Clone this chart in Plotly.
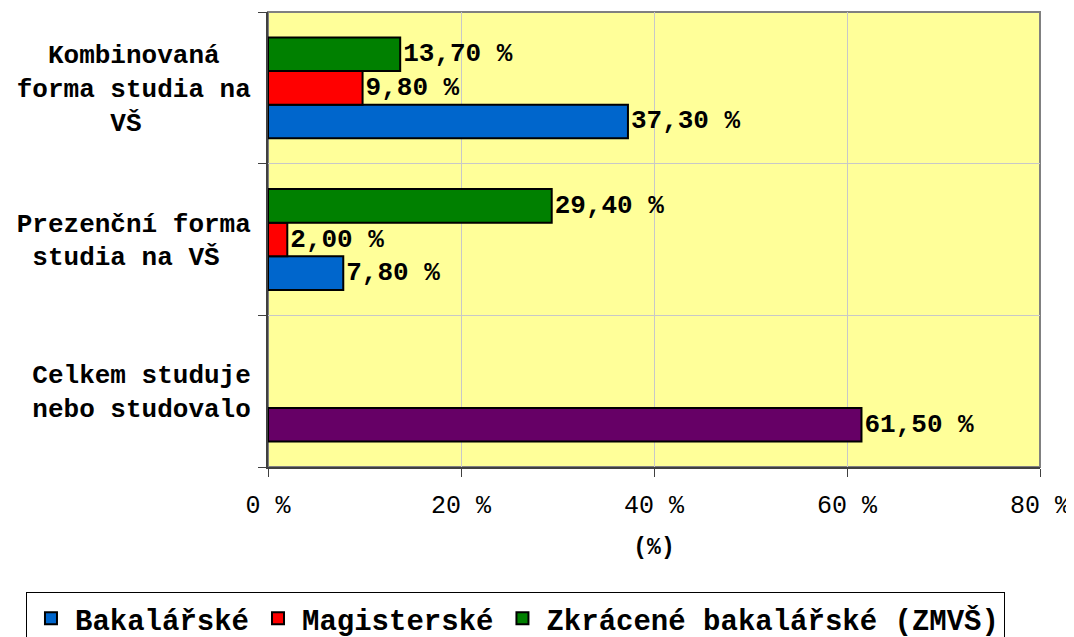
import plotly.graph_objects as go

NB = "\u00a0"
categories = [
    "Celkem studuje<br>nebo studovalo",
    "Prezenční forma<br>studia na VŠ" + NB * 2,
    "Kombinovaná" + NB * 2 + "<br>forma studia na<br>VŠ" + NB * 7,
]
bakalarske = [61.5, 7.8, 37.3]
magisterske = [None, 2.0, 9.8]
zkracene = [None, 29.4, 13.7]
bak_colors = ["#660066", "#0066CC", "#0066CC"]
series_names = ["Bakalářské", "Magisterské", "Zkrácené bakalářské (ZMVŠ)"]
series_colors = ["#0066CC", "#FF0000", "#008000"]


def fmt(v):
    return "" if v is None else f"{v:.2f}".replace(".", ",") + " %"


MONO = "Liberation Mono, Courier New, monospace"

fig = go.Figure()
for i, (name, vals, col) in enumerate([
    (series_names[0], bakalarske, bak_colors),
    (series_names[1], magisterske, series_colors[1]),
    (series_names[2], zkracene, series_colors[2]),
]):
    fig.add_trace(go.Bar(
        y=categories, x=vals, name=name, orientation="h",
        offsetgroup=f"g{i}", legendrank=i + 1,
        showlegend=(i != 0),
        marker=dict(color=col, line=dict(color="black", width=2)),
        text=[fmt(v) for v in vals], textposition="outside",
        textfont=dict(family=MONO, size=26, color="black", weight="bold"),
        constraintext="none", cliponaxis=False,
    ))

# legend entry for Bakalářské (blue swatch), sharing the first bar slot
fig.add_trace(go.Bar(
    y=[categories[0]], x=[None], name=series_names[0], orientation="h",
    offsetgroup="g0", legendrank=1, showlegend=True,
    marker=dict(color=series_colors[0], line=dict(color="black", width=2)),
))

# plot-area border (grey, top and right visible)
fig.add_shape(type="rect", xref="paper", yref="paper", x0=0, x1=1, y0=0, y1=1,
              line=dict(color="#808080", width=2), layer="below")

fig.update_layout(
    width=1074, height=637,
    barmode="group", bargap=0.335, bargroupgap=0,
    plot_bgcolor="#FFFF99", paper_bgcolor="white",
    margin=dict(l=260, r=42, t=4, b=178, autoexpand=False),
    font=dict(family=MONO, color="black"),
    legend=dict(
        orientation="h", xref="paper", x=-0.3135, xanchor="left",
        yref="paper", y=-0.2747, yanchor="top",
        bordercolor="black", borderwidth=1, bgcolor="white",
        font=dict(family=MONO, size=29, weight="bold"),
        tracegroupgap=0, itemwidth=38,
    ),
    xaxis=dict(
        range=[0, 80], dtick=20, ticksuffix=" %",
        showgrid=True, gridcolor="#C8C8C8", gridwidth=1,
        showline=True, linecolor="#404040", linewidth=2,
        ticks="outside", ticklen=8, tickcolor="#404040",
        tickfont=dict(family=MONO, size=25),
        ticklabelstandoff=6,
        title=dict(text="(%)", font=dict(family=MONO, size=23, weight="bold"), standoff=18),
        zeroline=False, fixedrange=True, automargin=False,
    ),
    yaxis=dict(
        categoryorder="array", categoryarray=categories,
        tickson="boundaries", ticks="outside", ticklen=8, tickcolor="#404040",
        showgrid=True, gridcolor="#C8C8C8",
        showline=True, linecolor="#404040", linewidth=2,
        tickfont=dict(family=MONO, size=26, weight="bold"),
        ticklabelstandoff=10, automargin=False,
    ),
)

fig.write_html("out.html")
